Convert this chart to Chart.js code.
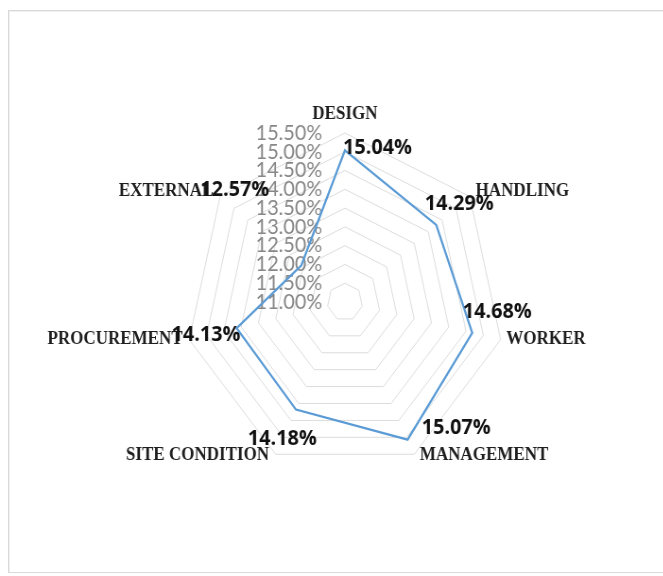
<!DOCTYPE html>
<html>
<head>
<meta charset="utf-8">
<script src="https://cdn.jsdelivr.net/npm/chart.js@4/dist/chart.umd.min.js"></script>
<style>
  html, body { margin: 0; padding: 0; background: #fff; overflow: hidden; width: 663px; height: 576px; }
  #frame {
    position: absolute; left: 8px; top: 10px; right: 0; height: 561px;
    border: 1px solid #d9d9d9; border-right: none; box-shadow: inset 1px 1px 0 #f0f0f0;
  }
  #radarChart {
    position: absolute; left: 0; top: 0;
    transform: scaleX(0.945); transform-origin: 0 0;
  }
</style>
</head>
<body>
<div id="frame"></div>
<canvas id="radarChart" width="663" height="576"></canvas>
<script>
const categories = ['DESIGN', 'HANDLING', 'WORKER', 'MANAGEMENT', 'SITE CONDITION', 'PROCUREMENT', 'EXTERNAL'];
const shares = [15.04, 14.29, 14.68, 15.07, 14.18, 14.13, 12.57];
const axisMin = 11;
const axisMax = 15.5;
const axisStep = 0.5;

// label nudges, relative to the point each label belongs to (left edge, vertical centre)
const valueLabelShift = [[-2, -2], [-12, -21], [-10, -21], [15, -12], [-51, 29], [-69, 7], [-107, -75]];

const excelLook = {
  id: 'excelLook',
  beforeDatasetsDraw(chart) {
    const ctx = chart.ctx;
    const r = chart.scales.r;
    ctx.save();
    // axis tick labels, left of the vertical axis
    ctx.font = '21px Lato';
    ctx.fillStyle = '#878787';
    ctx.textAlign = 'right';
    ctx.textBaseline = 'middle';
    r.ticks.forEach(t => {
      const y = r.yCenter - r.getDistanceFromCenterForValue(t.value);
      ctx.fillText(t.value.toFixed(2) + '%', r.xCenter - 24, y);
    });

    // category names
    ctx.font = 'bold 18px "Liberation Serif"';
    ctx.fillStyle = '#1e1e1e';
    categories.forEach((name, i) => {
      const p = r.getPointPosition(i, r.drawingArea);
      const a = (i * 360 / categories.length);
      if (i === 0) {
        ctx.textAlign = 'center';
        ctx.fillText(name, p.x, p.y - 19);
      } else {
        const right = a > 180;
        ctx.textAlign = right ? 'right' : 'left';
        const dy = (a < 90 || a > 270) ? -5 : (a > 135 && a < 225 ? 1 : 0);
        ctx.fillText(name, p.x + (right ? -7 : 6), p.y + dy);
      }
    });
    ctx.restore();
  },
  afterDatasetsDraw(chart) {
    const ctx = chart.ctx;
    const meta = chart.getDatasetMeta(0);
    ctx.save();
    ctx.font = 'bold 21px "Open Sans"';
    ctx.fillStyle = '#111';
    ctx.textAlign = 'left';
    ctx.textBaseline = 'middle';
    meta.data.forEach((pt, i) => {
      const s = valueLabelShift[i];
      ctx.fillText(shares[i].toFixed(2) + '%', pt.x + s[0], pt.y + s[1]);
    });
    ctx.restore();
  }
};

new Chart(document.getElementById('radarChart'), {
  type: 'radar',
  data: {
    labels: categories,
    datasets: [{
      data: shares,
      borderColor: '#5b9bd5',
      borderWidth: 2.25,
      backgroundColor: 'transparent',
      fill: false,
      pointRadius: 0,
      tension: 0
    }]
  },
  options: {
    responsive: false,
    devicePixelRatio: 1,
    animation: false,
    layout: { padding: { left: 196, top: 133, right: 129, bottom: 105 } },
    plugins: { legend: { display: false }, tooltip: { enabled: false } },
    scales: {
      r: {
        min: axisMin,
        max: axisMax,
        ticks: { stepSize: axisStep, display: false },
        grid: { color: '#dcdcdc', lineWidth: 1 },
        angleLines: { display: false },
        pointLabels: { display: false }
      }
    }
  },
  plugins: [excelLook]
});
</script>
</body>
</html>
